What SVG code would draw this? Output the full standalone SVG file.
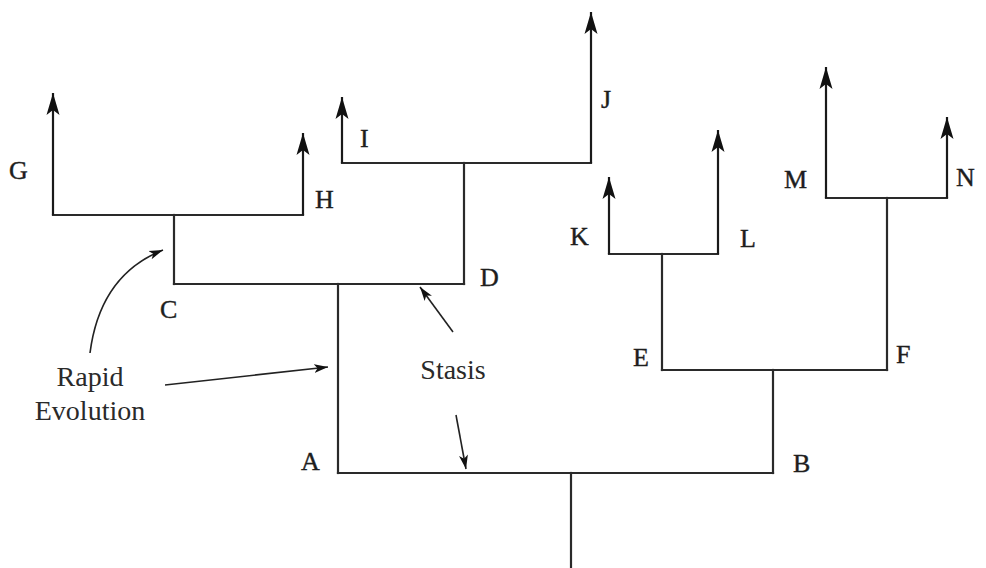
<svg xmlns="http://www.w3.org/2000/svg" width="986" height="568" viewBox="0 0 986 568">
<style>
  .br{fill:none;stroke:#2a2a2a;stroke-width:2.2;stroke-linecap:square}
  .tip{fill:none;stroke:#1a1a1a;stroke-width:2.2;marker-end:url(#big)}
  .ann{fill:none;stroke:#222;stroke-width:1.6;marker-end:url(#small)}
  .lbl{font-family:"Liberation Serif","Times New Roman",serif;font-size:26px;fill:#1e1e1e;stroke:#1e1e1e;stroke-width:0.4}
  .txt{font-family:"Liberation Serif","Times New Roman",serif;font-size:28px;fill:#2a2a2a;text-anchor:middle}
</style>
<defs>
  <marker id="big" markerUnits="userSpaceOnUse" markerWidth="24" markerHeight="16" refX="22" refY="8" orient="auto" viewBox="0 0 24 16">
    <path d="M22,8 L0,1.5 L5,8 L0,14.5 Z" fill="#111"/>
  </marker>
  <marker id="small" markerUnits="userSpaceOnUse" markerWidth="16" markerHeight="10" refX="14" refY="5" orient="auto" viewBox="0 0 16 10">
    <path d="M14,5 L0,0.5 L3.5,5 L0,9.5 Z" fill="#111"/>
  </marker>
</defs>
<rect width="986" height="568" fill="#fff"/>
<g id="connectors">
  <path class="br" d="M571,568 V473"/>
  <path class="br" d="M338,473 H773"/>
  <path class="br" d="M338,473 V284"/>
  <path class="br" d="M174,284 H464"/>
  <path class="br" d="M174,284 V215"/>
  <path class="br" d="M53,215 H303"/>
  <path class="br" d="M464,284 V163"/>
  <path class="br" d="M342,163 H591"/>
  <path class="br" d="M773,473 V370"/>
  <path class="br" d="M662,370 H887"/>
  <path class="br" d="M662,370 V254"/>
  <path class="br" d="M609,254 H718"/>
  <path class="br" d="M887,370 V198"/>
  <path class="br" d="M826,198 H947"/>
  <path class="tip" d="M53,215 V93"/>
  <path class="tip" d="M303,215 V133"/>
  <path class="tip" d="M342,163 V97"/>
  <path class="tip" d="M591,163 V12"/>
  <path class="tip" d="M609,254 V177"/>
  <path class="tip" d="M718,254 V130"/>
  <path class="tip" d="M826,198 V67"/>
  <path class="tip" d="M947,198 V117"/>
</g>
<g id="node-A"><text class="lbl" x="301" y="470">A</text></g>
<g id="node-B"><text class="lbl" x="793" y="472">B</text></g>
<g id="node-C"><text class="lbl" x="160" y="318">C</text></g>
<g id="node-D"><text class="lbl" x="480" y="286">D</text></g>
<g id="node-E"><text class="lbl" x="633" y="366">E</text></g>
<g id="node-F"><text class="lbl" x="896" y="363">F</text></g>
<g id="node-G"><text class="lbl" x="9" y="179">G</text></g>
<g id="node-H"><text class="lbl" x="315" y="208">H</text></g>
<g id="node-I"><text class="lbl" x="360" y="147">I</text></g>
<g id="node-J"><text class="lbl" x="601" y="108">J</text></g>
<g id="node-K"><text class="lbl" x="570" y="245">K</text></g>
<g id="node-L"><text class="lbl" x="740" y="247">L</text></g>
<g id="node-M"><text class="lbl" x="784" y="188">M</text></g>
<g id="node-N"><text class="lbl" x="956" y="186">N</text></g>
<g id="annotations">
  <text class="txt" x="90" y="386">Rapid</text>
  <text class="txt" x="90" y="420">Evolution</text>
  <text class="txt" x="453" y="379">Stasis</text>
  <path class="ann" d="M90,353 Q100,275 163,250"/>
  <path class="ann" d="M165,385 L328,367"/>
  <path class="ann" d="M453,332 L420,287"/>
  <path class="ann" d="M456,415 L466,469"/>
</g>
</svg>
